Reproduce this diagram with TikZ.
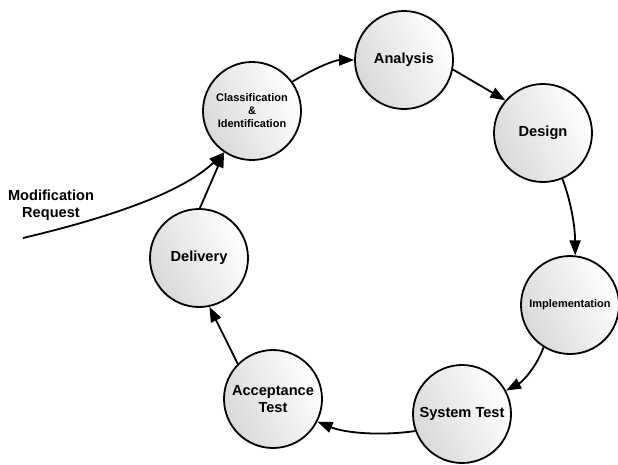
\documentclass[tikz,border=0pt]{standalone}
\usepackage{fontspec}
\setmainfont{Liberation Sans}
\usetikzlibrary{arrows.meta}
\begin{document}
\begin{tikzpicture}[x=1pt,y=-1pt,
		phase/.style={circle,draw=black,line width=1.8pt,minimum size=98pt,inner sep=0pt,align=center,
			top color=white,bottom color=gray!30,shading angle=-65,
			font=\bfseries\fontsize{14.6}{17.5}\selectfont},
		smalltext/.style={font=\bfseries\fontsize{11}{13}\selectfont},
		flow/.style={line width=1.8pt,-{Triangle[length=15pt,width=11pt]}}]
	\useasboundingbox (0,0) rectangle (618,464);
	\node[phase,smalltext] (cls) at (252,111) {Classification\\\&\\Identification};
	\node[phase] (ana) at (404,60) {Analysis};
	\node[phase] (des) at (543,133) {Design};
	\node[phase,smalltext] (imp) at (570,305) {Implementation};
	\node[phase] (sys) at (462,414) {System Test};
	\node[phase] (acc) at (273,399) {Acceptance\\Test};
	\node[phase] (del) at (199,258) {Delivery};
	\node[align=center,font=\bfseries\fontsize{14.6}{17.5}\selectfont] (req) at (51,205) {Modification\\Request};
	\coordinate (reqstart) at (23,238);
	\draw[flow] (reqstart) .. controls (120,215) and (185,190) .. (cls.236);
	\draw[flow] (del.89) -- (cls.236);
	\draw[flow] (cls.36) .. controls (318,66) and (336,60) .. (ana.180);
	\draw[flow] (ana.-11) -- (des.139);
	\draw[flow] (des.-67) .. controls (572,205) and (575,228) .. (imp.84);
	\draw[flow] (imp.-122) .. controls (536,368) and (522,382) .. (sys.28);
	\draw[flow] (sys.200) .. controls (380,436) and (345,433) .. (acc.-27);
	\draw[flow] (acc.135) -- (del.-78);
\end{tikzpicture}
\end{document}
